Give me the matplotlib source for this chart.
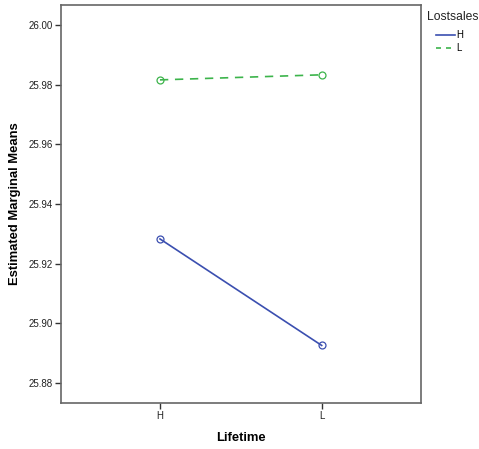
import matplotlib
matplotlib.use("Agg")
import matplotlib.pyplot as plt
from matplotlib.lines import Line2D

plt.rcParams["font.family"] = ["Liberation Sans", "DejaVu Sans"]

# estimated marginal means, x = Lifetime level, one series per Lostsales level
lifetime = ["H", "L"]
lostsales = ["H", "L"]
means_h = [25.9283, 25.8926]
means_l = [25.9816, 25.9833]
yticks = [25.88, 25.90, 25.92, 25.94, 25.96, 25.98, 26.00]

BLUE = "#3b4fb0"
GREEN = "#3cb44b"

fig = plt.figure(figsize=(4.79, 4.49), dpi=100)
ax = fig.add_axes([0.1273, 0.1024, 0.7516, 0.8865])

x = range(len(lifetime))
ax.plot(x, means_h, "-", color=BLUE, lw=1.2, marker="o", ms=5,
        mfc="none", mec=BLUE, mew=0.9)
ax.plot(x, means_l, "--", color=GREEN, lw=1.2, dashes=(5, 4), marker="o", ms=5,
        mfc="none", mec=GREEN, mew=0.9)

ax.set_xlim(-0.612, 1.614)
ax.set_ylim(25.8733, 26.0067)
ax.set_xticks(list(x))
ax.set_xticklabels(lifetime, fontsize=7)
ax.set_yticks(yticks)
ax.set_yticklabels([f"{v:.2f}" for v in yticks], fontsize=7)
ax.tick_params(length=4, width=1, color="#333333", labelcolor="#222222", pad=2)
for s in ax.spines.values():
    s.set_color("#666666")
    s.set_linewidth(1.2)

ax.set_xlabel("Lifetime", fontsize=9.4, fontweight="bold", labelpad=8)
ax.set_ylabel("Estimated Marginal Means", fontsize=9.4, fontweight="bold", labelpad=5)

fig.text(427 / 479, 1 - 17 / 449, "Lostsales", fontsize=8.7, va="center", ha="left",
         color="#222222")
handles = [Line2D([0], [0], color=BLUE, lw=1.2),
           Line2D([0], [0], color=GREEN, lw=1.2, ls="--", dashes=(3, 3))]
fig.legend(handles, lostsales, loc="upper left",
           bbox_to_anchor=(436 / 479, 1 - 30 / 449), frameon=False,
           fontsize=7, handlelength=2.0, handletextpad=0.1, labelspacing=0.35,
           borderpad=0, borderaxespad=0)

fig.savefig("out.png", dpi=100, facecolor="white")
